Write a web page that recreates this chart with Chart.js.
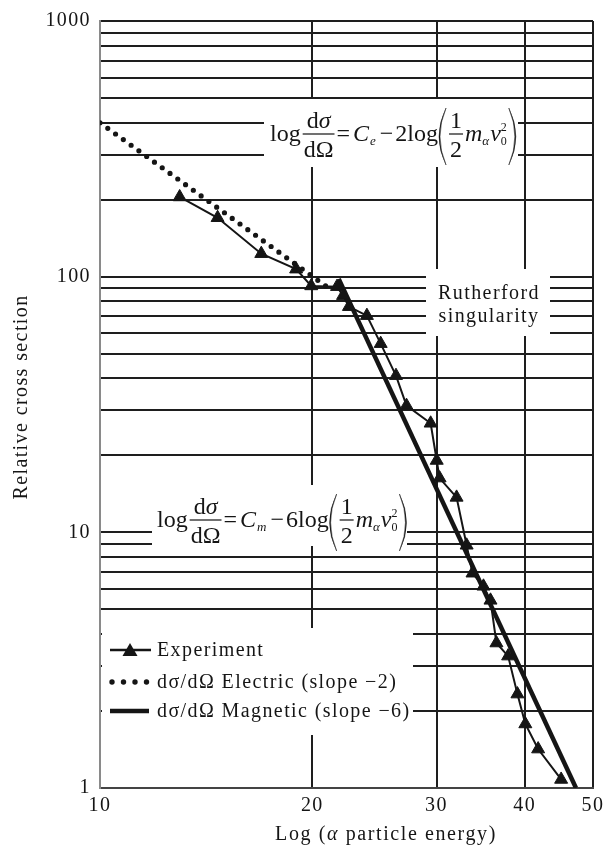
<!DOCTYPE html>
<html><head><meta charset="utf-8">
<script src="https://cdn.jsdelivr.net/npm/chart.js@4"></script>
<style>html,body{margin:0;padding:0;background:#fff}#wrap{width:609px;height:848px;position:relative}</style>
</head><body><div id="wrap"><canvas id="c" width="609" height="848"></canvas></div>
<script>
// ---- data ----
const expX = [12.97, 14.68, 16.93, 18.97, 19.93, 21.68, 22.11, 22.54, 23.9, 25.0, 26.28, 27.2, 29.43, 30.02, 30.3, 32.03, 33.1, 33.74, 34.97, 35.78, 36.48, 37.9, 39.07, 40.09, 41.8, 45.06];
const expY = [205, 170, 123, 107, 92, 91.4, 84.3, 76.3, 70.4, 54.7, 41.0, 31.3, 26.7, 19.1, 16.3, 13.7, 8.9, 6.92, 6.15, 5.42, 3.69, 3.28, 2.33, 1.78, 1.42, 1.08];
const elecX = [10, 21];
const elecY = [400, 91];
const magX = [21.8, 47.3];
const magY = [98, 1];
const xTicks = [10, 20, 30, 40, 50];
const yGrid = [1,2,3,4,5,6,7,8,9,10,20,30,40,50,60,70,80,90,100,200,300,400,500,600,700,800,900,1000];
const yLabelValues = [1, 10, 100, 1000];
const seriesNames = ['Experiment', 'dσ/dΩ Electric (slope −2)', 'dσ/dΩ Magnetic (slope −6)'];
const xTitle = ['Log (', 'α', ' particle energy)'];
const yTitle = 'Relative cross section';

const SERIF = '"Liberation Serif","Times New Roman",serif';
const INK = '#151515';
const pts = (xs, ys) => xs.map((x, i) => ({x, y: ys[i]}));

function paren(ctx, px, top, bottom, w, left) {
  const mid = (top + bottom) / 2;
  ctx.beginPath();
  if (left) {
    ctx.moveTo(px + w, top);
    ctx.quadraticCurveTo(px - w, mid, px + w, bottom);
    ctx.quadraticCurveTo(px - w + 2, mid, px + w, top);
  } else {
    ctx.moveTo(px, top);
    ctx.quadraticCurveTo(px + 2 * w, mid, px, bottom);
    ctx.quadraticCurveTo(px + 2 * w - 2, mid, px, top);
  }
  ctx.fill();
  ctx.lineWidth = 0.5; ctx.stroke();
}

function drawFormula(ctx, x0, yb, sub, coef) {
  const F = 24;
  const up = s => `${s}px ${SERIF}`;
  const it = s => `italic ${s}px ${SERIF}`;
  ctx.save();
  ctx.letterSpacing = '0px';
  ctx.fillStyle = INK; ctx.strokeStyle = INK;
  ctx.textBaseline = 'alphabetic'; ctx.textAlign = 'left';
  let x = x0;
  const axis = yb - 7;
  const txt = (s, font, dy = 0, adv = true) => { ctx.font = font; ctx.fillText(s, x, yb + dy); const w = ctx.measureText(s).width; if (adv) x += w; return w; };
  txt('log', up(F));
  x += 2;
  ctx.font = up(F); const wd = ctx.measureText('d').width;
  ctx.font = it(F); const ws = ctx.measureText('σ').width;
  ctx.font = up(F); const wden = ctx.measureText('dΩ').width;
  const fw = Math.max(wd + ws, wden) + 2;
  const nx = x + (fw - (wd + ws)) / 2;
  ctx.font = up(F); ctx.fillText('d', nx, axis - 6);
  ctx.font = it(F); ctx.fillText('σ', nx + wd, axis - 6);
  ctx.font = up(F); ctx.fillText('dΩ', x + (fw - wden) / 2, axis + 23);
  ctx.fillRect(x, axis - 0.6, fw, 1.2);
  x += fw + 2;
  txt('=', up(F)); x += 3;
  txt('C', it(F)); x += 1;
  txt(sub, it(13), 4); x += 4;
  txt('−', up(F)); x += 2;
  txt(coef + 'log', up(F)); x += 1;
  paren(ctx, x, yb - 33, yb + 24, 7, true);
  x += 10;
  ctx.font = up(F); const w1 = ctx.measureText('1').width;
  ctx.fillText('1', x + 1, axis - 6);
  ctx.fillText('2', x + 1, axis + 23);
  ctx.fillRect(x, axis - 0.6, w1 + 2, 1.2);
  x += w1 + 4;
  txt('m', it(F));
  txt('α', it(13), 4); x += 1;
  txt('v', it(F));
  txt('2', up(12), -10, false);
  txt('0', up(12), 4); x += 2;
  paren(ctx, x, yb - 33, yb + 24, 7, false);
  ctx.restore();
}

function spaced(ctx) { ctx.letterSpacing = '1.4px'; }

const overlay = {
  id: 'overlay',
  beforeDraw(chart) { spaced(chart.ctx); },
  beforeDatasetsDraw(chart) {
    const ctx = chart.ctx;
    ctx.save();
    ctx.fillStyle = '#fff';
    ctx.fillRect(264, 99, 254, 68);   // formula 1
    ctx.fillRect(152, 485, 255, 61);  // formula 2
    ctx.fillRect(426, 269, 124, 67);  // Rutherford note
    ctx.fillRect(102, 628, 311, 107); // legend
    drawFormula(ctx, 270, 141, 'e', '2');
    drawFormula(ctx, 157, 527, 'm', '6');
    ctx.fillStyle = INK;
    ctx.font = `20px ${SERIF}`;
    spaced(ctx);
    ctx.textAlign = 'center'; ctx.textBaseline = 'alphabetic';
    ctx.fillText('Rutherford', 489, 299);
    ctx.fillText('singularity', 489, 322);
    // legend
    ctx.textAlign = 'left';
    ctx.strokeStyle = INK;
    ctx.lineWidth = 2.5;
    ctx.beginPath(); ctx.moveTo(110, 650); ctx.lineTo(151, 650); ctx.stroke();
    ctx.beginPath(); ctx.moveTo(130, 643); ctx.lineTo(137.5, 656); ctx.lineTo(122.5, 656); ctx.closePath(); ctx.fill();
    for (const dx of [112, 123.5, 135, 146.5]) { ctx.beginPath(); ctx.arc(dx, 682, 2.7, 0, Math.PI * 2); ctx.fill(); }
    ctx.lineWidth = 4.5;
    ctx.beginPath(); ctx.moveTo(110, 711); ctx.lineTo(149, 711); ctx.stroke();
    ctx.fillText(seriesNames[0], 157, 656);
    ctx.fillText(seriesNames[1], 157, 688);
    ctx.fillText(seriesNames[2], 157, 717);
    // x title with italic alpha
    ctx.letterSpacing = '1.6px';
    ctx.font = `20px ${SERIF}`;
    const a = ctx.measureText(xTitle[0]).width;
    ctx.font = `italic 20px ${SERIF}`;
    const b = ctx.measureText(xTitle[1]).width;
    ctx.font = `20px ${SERIF}`;
    const c = ctx.measureText(xTitle[2]).width;
    let tx = 386 - (a + b + c) / 2;
    ctx.fillText(xTitle[0], tx, 840); tx += a;
    ctx.font = `italic 20px ${SERIF}`; ctx.fillText(xTitle[1], tx, 840); tx += b;
    ctx.font = `20px ${SERIF}`; ctx.fillText(xTitle[2], tx, 840);
    spaced(ctx);
    // y title
    ctx.translate(27, 397); ctx.rotate(-Math.PI / 2);
    ctx.textAlign = 'center';
    ctx.fillText(yTitle, 0, 0);
    ctx.restore();
    spaced(ctx);
  }
};

new Chart(document.getElementById('c'), {
  type: 'scatter',
  data: {
    datasets: [
      { label: seriesNames[2], data: pts(magX, magY), showLine: true, borderColor: INK, borderWidth: 4.5, pointRadius: 0, order: 3 },
      { label: seriesNames[1], data: pts(elecX, elecY), showLine: true, borderColor: INK, borderWidth: 5.2, borderDash: [0, 9.6], borderCapStyle: 'round', pointRadius: 0, order: 2 },
      { label: seriesNames[0], data: pts(expX, expY), showLine: true, borderColor: INK, borderWidth: 2, pointStyle: 'triangle', pointRadius: 7.5, pointBackgroundColor: INK, pointBorderColor: INK, pointBorderWidth: 1, order: 1 }
    ]
  },
  options: {
    responsive: false, animation: false, devicePixelRatio: 1,
    layout: { padding: { top: 20, right: 14, left: 0, bottom: 0 } },
    plugins: { legend: { display: false }, tooltip: { enabled: false } },
    scales: {
      x: {
        type: 'logarithmic', min: 10, max: 50, position: 'bottom',
        afterBuildTicks: s => { s.ticks = xTicks.map(v => ({ value: v })); },
        afterFit: s => { s.height = 60; },
        ticks: { callback: v => xTicks.includes(v) ? String(v) : '', autoSkip: false, maxRotation: 0, color: INK, font: { family: SERIF, size: 20 }, padding: 6 },
        grid: { color: c => (c.tick && c.tick.value === 10) ? 'rgba(0,0,0,0)' : '#1e1e1e', lineWidth: 2, drawTicks: false },
        border: { display: true, color: '#444', width: 2 }
      },
      y: {
        type: 'logarithmic', min: 1, max: 1000, position: 'left',
        afterBuildTicks: s => { s.ticks = yGrid.map(v => ({ value: v })); },
        afterFit: s => { s.width = 100; },
        ticks: { callback: v => yLabelValues.includes(v) ? String(v) : '', autoSkip: false, color: INK, font: { family: SERIF, size: 20 }, padding: 9 },
        grid: { color: c => (c.tick && c.tick.value === 1) ? 'rgba(0,0,0,0)' : '#1e1e1e', lineWidth: 2, drawTicks: false },
        border: { display: true, color: '#8a8a8a', width: 2 }
      }
    }
  },
  plugins: [overlay]
});
</script>
</body></html>
